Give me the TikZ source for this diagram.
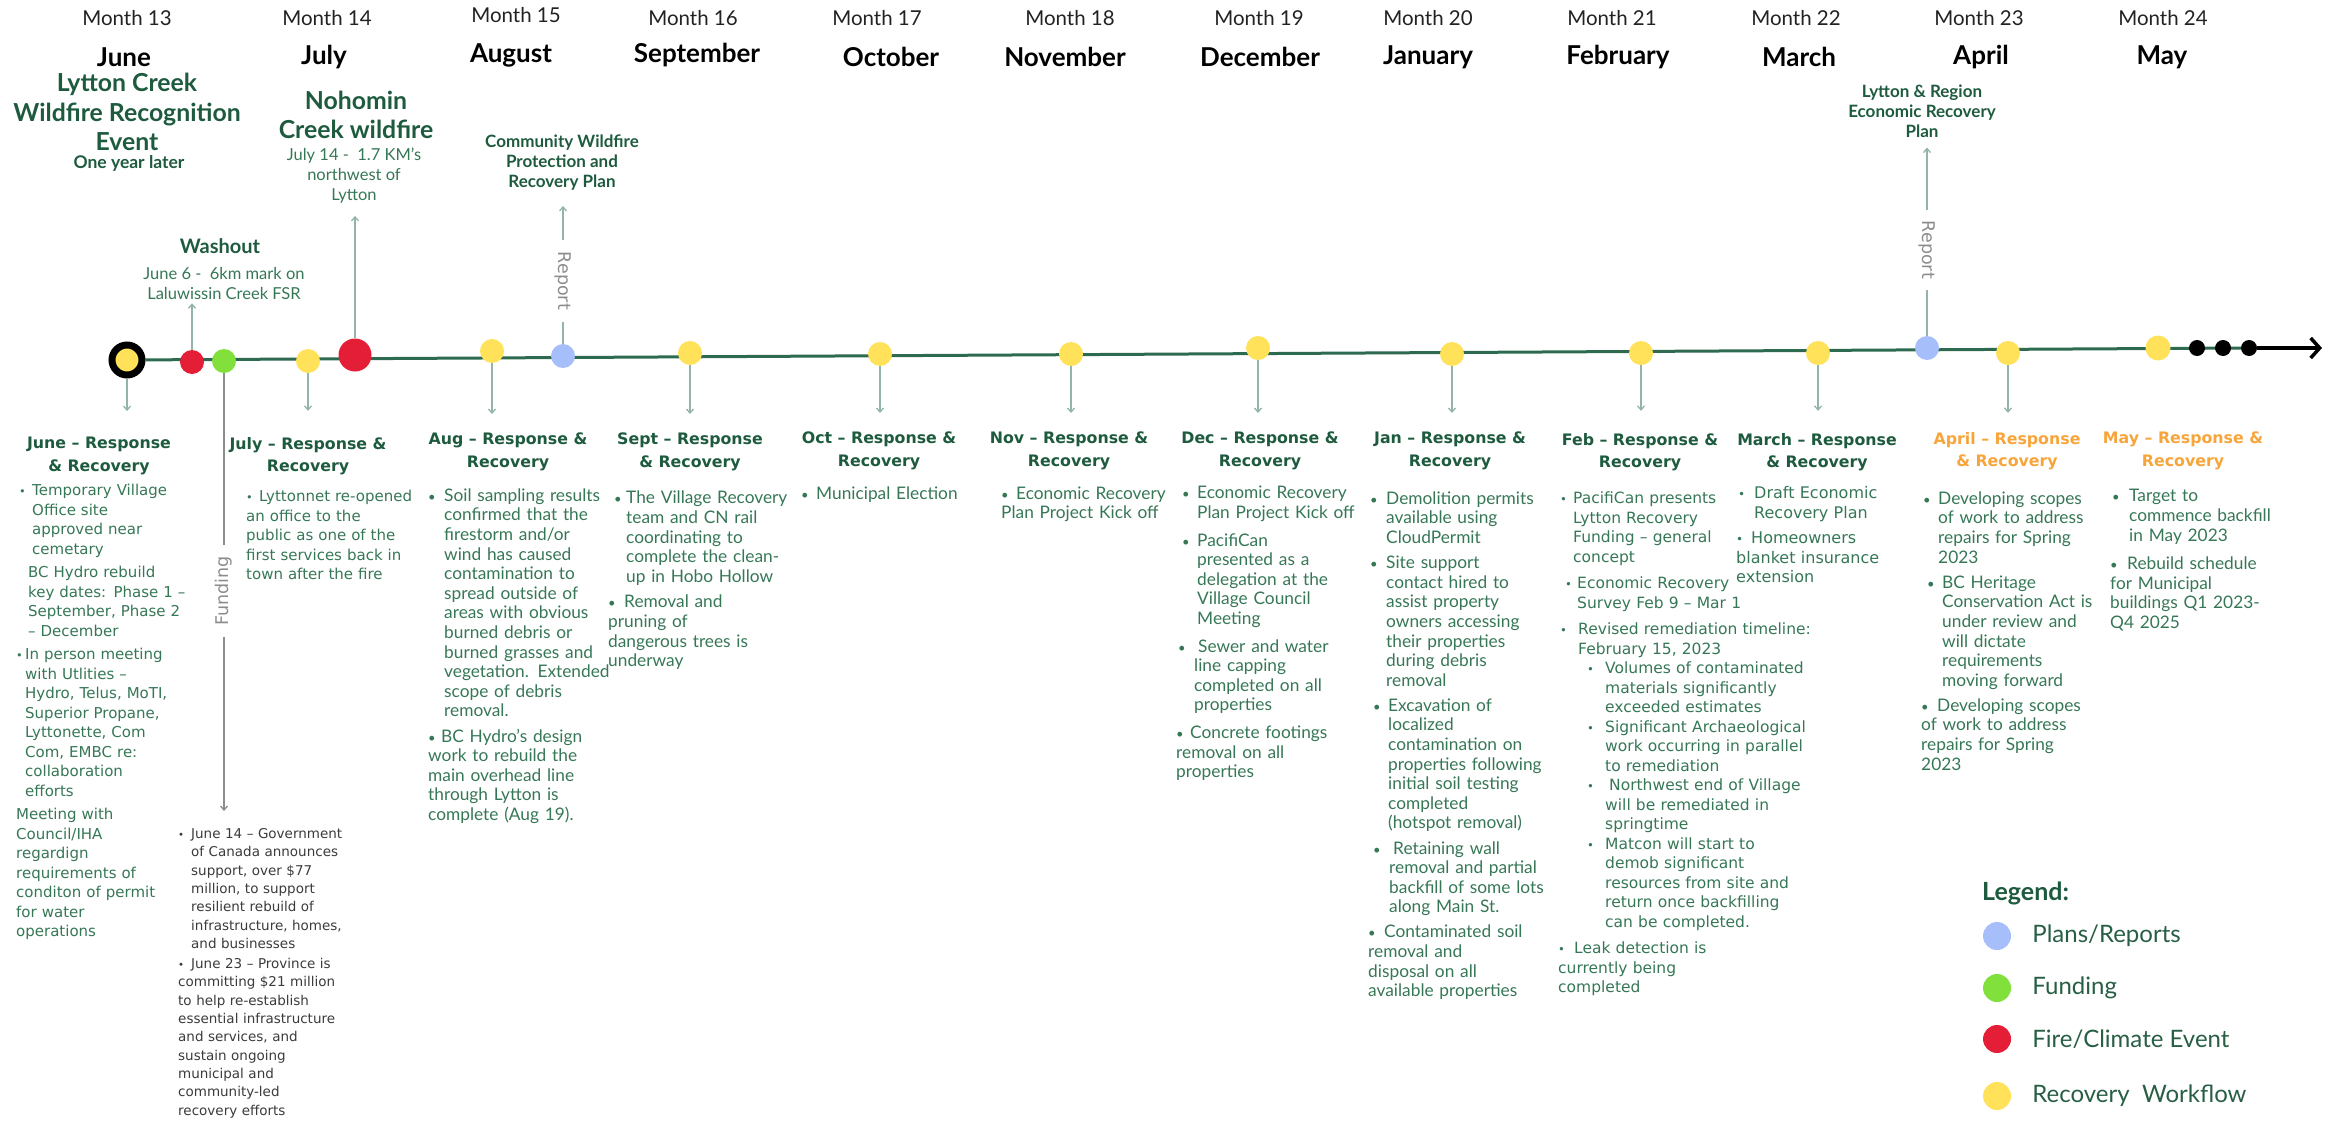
\documentclass[tikz,border=0pt]{standalone}
\usepackage{graphicx}
\usepackage{fontspec}
\setmainfont{Lato}
\newfontfamily\wide{DejaVu Sans}
\usetikzlibrary{arrows.meta,positioning,backgrounds}

\definecolor{hdgreen}{HTML}{1E5B3E}
\definecolor{txgreen}{HTML}{367756}
\definecolor{legtxt}{HTML}{275E44}
\definecolor{lngreen}{HTML}{2D6A4F}
\definecolor{cngray}{HTML}{93B5A7}
\definecolor{fngray}{HTML}{8C8C8C}
\definecolor{fundtxt}{HTML}{3B3B3B}
\definecolor{monthtxt}{HTML}{222222}
\definecolor{dotyel}{HTML}{FFE15A}
\definecolor{dotblu}{HTML}{A6BEFA}
\definecolor{dotgrn}{HTML}{82E03C}
\definecolor{dotred}{HTML}{E41E37}
\definecolor{hdorange}{HTML}{F7A53B}

% bullet paragraphs: left skip, bullet box width
\newcommand\bit[2]{\par\leftskip=#1pt\hangindent=#2pt\hangafter=1\noindent\makebox[#2pt][l]{\scalebox{.75}{\textbullet}}\ignorespaces}
\newcommand\sbit[2]{\par\vspace{-\parskip}\bit{#1}{#2}}
\newcommand\nob[1]{\par\leftskip=#1pt\hangindent=0pt\noindent\ignorespaces}

\tikzset{
  mlabel/.style={font=\fontsize{20.5}{24}\selectfont, text=monthtxt, inner sep=0pt},
  mname/.style={font=\bfseries\fontsize{26}{30}\selectfont, text=black, inner sep=0pt},
  evtitle/.style={align=center, text=hdgreen, font=\bfseries\fontsize{24.8}{29.5}\selectfont, inner sep=0pt},
  evsub/.style={text=hdgreen, font=\bfseries\fontsize{17.5}{20}\selectfont, inner sep=0pt},
  evhead/.style={text=hdgreen, font=\bfseries\fontsize{20}{24}\selectfont, inner sep=0pt},
  evnote/.style={align=center, text=txgreen, font=\fontsize{16.5}{20}\selectfont, inner sep=0pt},
  plantitle/.style={align=center, text=hdgreen, font=\bfseries\fontsize{17}{20}\selectfont, inner sep=0pt},
  colhead/.style={align=center, text=hdgreen, font=\wide\bfseries\fontsize{15.8}{22.5}\selectfont, inner sep=0pt},
  orghead/.style={colhead, text=hdorange},
  pgap/.style={execute at begin node={\setlength{\parskip}{#1}}},
  body/.style={anchor=north west, inner sep=0pt, text width=320pt, align=left, text=txgreen, font=\fontsize{17.3}{19.6}\selectfont, pgap=5.5pt},
  widebody/.style={body, font=\wide\fontsize{15}{19.5}\selectfont},
  dotnode/.style={circle, inner sep=0pt, minimum size=24pt},
  workdot/.style={dotnode, fill=dotyel},
  plandot/.style={dotnode, fill=dotblu},
  funddot/.style={dotnode, fill=dotgrn},
  firedot/.style={dotnode, fill=dotred},
  ringdot/.style={dotnode, fill=dotyel, draw=black, line width=7pt, minimum size=30pt},
  enddot/.style={dotnode, fill=black, minimum size=16pt},
  tline/.style={draw=lngreen, line width=3pt},
  endarrow/.style={draw=black, line width=3.5pt, -{Straight Barb[length=9pt,width=20pt]}},
  cline/.style={draw=cngray, line width=1.3pt},
  conn/.style={cline, -{Straight Barb[length=4pt,width=7pt]}},
  down/.style={conn, shorten >=19pt},
  fline/.style={draw=fngray, line width=1.3pt},
  rtag/.style={text=fngray, font=\wide\fontsize{17.5}{20}\selectfont, inner xsep=12pt, inner ysep=1pt},
  legtitle/.style={text=hdgreen, font=\bfseries\fontsize{25}{29}\selectfont, inner sep=0pt},
  legtext/.style={text=legtxt, font=\fontsize{24}{28}\selectfont, inner sep=0pt}
}

\begin{document}
\begin{tikzpicture}[x=1pt,y=-1pt]
\useasboundingbox (0,0) rectangle (2333,1121);

% month labels
\node[mlabel] (m13) at (127,18) {Month 13};
\node[mlabel] (m14) at (327,18) {Month 14};
\node[mlabel] (m15) at (516,15) {Month 15};
\node[mlabel] (m16) at (693,18) {Month 16};
\node[mlabel] (m17) at (877,18) {Month 17};
\node[mlabel] (m18) at (1070,18) {Month 18};
\node[mlabel] (m19) at (1259,18) {Month 19};
\node[mlabel] (m20) at (1428,18) {Month 20};
\node[mlabel] (m21) at (1612,18) {Month 21};
\node[mlabel] (m22) at (1796,18) {Month 22};
\node[mlabel] (m23) at (1979,18) {Month 23};
\node[mlabel] (m24) at (2163,18) {Month 24};
\node[mname] (n13) at (124,57) {June};
\node[mname] (n14) at (324,57) {July};
\node[mname] (n15) at (511,55) {August};
\node[mname] (n16) at (697,55) {September};
\node[mname] (n17) at (891,57) {October};
\node[mname] (n18) at (1065,57) {November};
\node[mname] (n19) at (1260,57) {December};
\node[mname] (n20) at (1428,57) {January};
\node[mname] (n21) at (1618,57) {February};
\node[mname] (n22) at (1799,57) {March};
\node[mname] (n23) at (1981,57) {April};
\node[mname] (n24) at (2162,57) {May};

% events above the line
\node[evtitle] (tLC) at (127,112) {Lytton Creek\\Wildfire Recognition\\Event};
\node[evsub] (tLCs) at (129,163) {One year later};
\node[evtitle] (tNoho) at (356,115) {Nohomin\\Creek wildfire};
\node[evnote] (tNohoN) at (354,176) {July 14 -\ \ 1.7 KM’s\\northwest of\\Lytton};
\node[evhead] (tWash) at (220,246) {Washout};
\node[evnote] (tWashN) at (224,283) {June 6 -\ \ 6km mark on\\Laluwissin Creek FSR};
\node[plantitle] (tCW) at (562,163) {Community Wildfire\\Protection and\\Recovery Plan};
\node[plantitle] (tLR) at (1922,111) {Lytton \& Region\\Economic Recovery\\Plan};

% dots on the timeline
\node[ringdot] (dRing) at (127,360) {};
\node[firedot] (dWash) at (192,362) {};
\node[funddot] (dFund) at (224,361) {};
\node[workdot] (dJul) at (308,361) {};
\node[firedot, minimum size=33pt] (dFire) at (355,355) {};
\node[workdot] (dAug) at (492,351) {};
\node[plandot] (dRepA) at (563,356) {};
\node[workdot] (dSep) at (690,353) {};
\node[workdot] (dOct) at (880,354) {};
\node[workdot] (dNov) at (1071,354) {};
\node[workdot] (dDec) at (1258,348) {};
\node[workdot] (dJan) at (1452,354) {};
\node[workdot] (dFeb) at (1641,353) {};
\node[workdot] (dMar) at (1818,353) {};
\node[plandot] (dRepB) at (1927,348) {};
\node[workdot] (dApr) at (2008,353) {};
\node[workdot, minimum size=25pt] (dMay) at (2158,348) {};
\node[enddot] (e1) at (2197,348) {};
\node[enddot] (e2) at (2223,348) {};
\node[enddot] (e3) at (2249,348) {};
\coordinate (tEnd) at (2322,348);
\begin{scope}[on background layer]
\draw[tline] (dRing) -- (e3);
\end{scope}
\draw[endarrow] (e3) -- (tEnd);

% tags on the side lines
\node[rtag, rotate=-90] (rA) at (563,281) {Report};
\node[rtag, rotate=-90, inner xsep=11pt] (rB) at (1927,250) {Report};
\node[rtag, rotate=90, inner xsep=11pt] (fN) at (224,591) {Funding};

% column headers
\node[colhead] (hJun) at (99,456) {June – Response\\\& Recovery};
\node[colhead] (hJul) at (308,456) {July – Response \&\\Recovery};
\node[colhead] (hAug) at (508,452) {Aug – Response \&\\Recovery};
\node[colhead] (hSep) at (690,452) {Sept – Response\\\& Recovery};
\node[colhead] (hOct) at (879,451) {Oct – Response \&\\Recovery};
\node[colhead] (hNov) at (1069,451) {Nov – Response \&\\Recovery};
\node[colhead] (hDec) at (1260,451) {Dec – Response \&\\Recovery};
\node[colhead] (hJan) at (1450,451) {Jan – Response \&\\Recovery};
\node[colhead] (hFeb) at (1640,452) {Feb – Response \&\\Recovery};
\node[colhead] (hMar) at (1817,452) {March – Response\\\& Recovery};
\node[orghead] (hApr) at (2007,451) {April – Response\\\& Recovery};
\node[orghead] (hMay) at (2183,451) {May – Response \&\\Recovery};

% column texts
\node[widebody, pgap=4pt] (bJun) at (16,472) {\bit{3}{13}Temporary Village\newline Office site\newline approved near\newline cemetary
\nob{12}BC Hydro rebuild\newline key dates: Phase 1 –\newline September, Phase 2\newline – December
\bit{0}{9}In person meeting\newline with Utlities –\newline Hydro, Telus, MoTI,\newline Superior Propane,\newline Lyttonette, Com\newline Com, EMBC re:\newline collaboration\newline efforts
\nob{8}Meeting with\newline Council/IHA\newline regardign\newline requirements of\newline conditon of permit\newline for water\newline operations};
\node[widebody, pgap=4pt] (bJul) at (246,478) {\bit{0}{13}Lyttonnet re-opened\newline an office to the\newline public as one of the\newline first services back in\newline town after the fire};
\node[widebody, text=fundtxt, font=\wide\fontsize{13.5}{18.3}\selectfont, pgap=2pt] (bFund) at (178,818) {\bit{0}{13}June 14 – Government\newline of Canada announces\newline support, over \$77\newline million, to support\newline resilient rebuild of\newline infrastructure, homes,\newline and businesses
\bit{0}{13}June 23 – Province is\newline committing \$21 million\newline to help re-establish\newline essential infrastructure\newline and services, and\newline sustain ongoing\newline municipal and\newline community-led\newline recovery efforts};
\node[body] (bAug) at (428,476) {\bit{0}{16}Soil sampling results\newline confirmed that the\newline firestorm and/or\newline wind has caused\newline contamination to\newline spread outside of\newline areas with obvious\newline burned debris or\newline burned grasses and\newline vegetation. Extended\newline scope of debris\newline removal.
\bit{7}{13}BC Hydro’s design\newline work to rebuild the\newline main overhead line\newline through Lytton is\newline complete (Aug 19).};
\node[body, pgap=6pt] (bSep) at (608,478) {\bit{6}{12}The Village Recovery\newline team and CN rail\newline coordinating to\newline complete the clean-\newline up in Hobo Hollow
\bit{0}{16}Removal and\newline pruning of\newline dangerous trees is\newline underway};
\node[body] (bOct) at (801,474) {\bit{0}{15}Municipal Election};
\node[body] (bNov) at (1001,474) {\bit{0}{15}Economic Recovery\newline Plan Project Kick off};
\node[body, pgap=8pt] (bDec) at (1176,471) {\bit{6}{15}Economic Recovery\newline Plan Project Kick off
\bit{6}{15}PacifiCan\newline presented as a\newline delegation at the\newline Village Council\newline Meeting
\bit{2}{16}\hspace{4pt}Sewer and water\newline line capping\newline completed on all\newline properties
\bit{4}{14}Concrete footings\newline removal on all\newline properties};
\node[body] (bJan) at (1368,479) {\bit{2}{16}Demolition permits\newline available using\newline CloudPermit
\bit{2}{16}Site support\newline contact hired to\newline assist property\newline owners accessing\newline their properties\newline during debris\newline removal
\bit{5}{15}Excavation of\newline localized\newline contamination on\newline properties following\newline initial soil testing\newline completed\newline (hotspot removal)
\bit{5}{16}\hspace{4pt}Retaining wall\newline removal and partial\newline backfill of some lots\newline along Main St.
\bit{5}{16}Contaminated soil\newline removal and\newline disposal on all\newline available properties};
\node[widebody, font=\wide\fontsize{15.5}{19.5}\selectfont, pgap=7pt] (bFeb) at (1558,477) {\bit{2}{13}PacifiCan presents\newline Lytton Recovery\newline Funding – general\newline concept
\bit{7}{12}Economic Recovery\newline Survey Feb 9 – Mar 1
\bit{2}{18}Revised remediation timeline:\newline February 15, 2023
\sbit{29}{18}Volumes of contaminated\newline materials significantly\newline exceeded estimates
\sbit{29}{18}Significant Archaeological\newline work occurring in parallel\newline to remediation
\sbit{29}{18}\hspace{4pt}Northwest end of Village\newline will be remediated in\newline springtime
\sbit{29}{18}Matcon will start to\newline demob significant\newline resources from site and\newline return once backfilling\newline can be completed.
\bit{19}{16}Leak detection is\newline currently being\newline completed};
\node[widebody, font=\wide\fontsize{16}{19.5}\selectfont, pgap=6pt] (bMar) at (1736,473) {\bit{2}{16}Draft Economic\newline Recovery Plan
\bit{2}{15}Homeowners\newline blanket insurance\newline extension};
\node[body] (bApr) at (1921,479) {\bit{2}{15}Developing scopes\newline of work to address\newline repairs for Spring\newline 2023
\bit{6}{15}BC Heritage\newline Conservation Act is\newline under review and\newline will dictate\newline requirements\newline moving forward
\bit{4}{16}Developing scopes\newline of work to address\newline repairs for Spring\newline 2023};
\node[body, pgap=9pt] (bMay) at (2110,473) {\bit{2}{17}Target to\newline commence backfill\newline in May 2023
\bit{2}{17}Rebuild schedule\newline for Municipal\newline buildings Q1 2023-\newline Q4 2025};

% connectors
\draw[conn, shorten >=4pt] (dWash) -- (dWash |- tWashN.south);
\draw[conn, shorten >=12pt] (dFire) -- (dFire |- tNohoN.south);
\draw[cline] (dRepA) -- (rA);
\draw[conn, shorten >=15pt] (rA) -- (dRepA |- tCW.south);
\draw[cline] (dRepB) -- (rB);
\draw[conn, shorten >=10pt] (rB) -- (dRepB |- tLR.south);
\draw[fline] (dFund) -- (fN);
\draw[fline, -{Straight Barb[length=4pt,width=7pt]}, shorten >=7pt] (fN) -- (fN |- bFund.north);
\draw[down, shorten >=26pt] (dRing) -- (dRing |- hJun.north);
\draw[down, shorten >=26pt] (dJul) -- (dJul |- hJul.north);
\draw[down] (dAug) -- (dAug |- hAug.north);
\draw[down] (dSep) -- (dSep |- hSep.north);
\draw[down] (dOct) -- (dOct |- hOct.north);
\draw[down] (dNov) -- (dNov |- hNov.north);
\draw[down] (dDec) -- (dDec |- hDec.north);
\draw[down] (dJan) -- (dJan |- hJan.north);
\draw[down, shorten >=22pt] (dFeb) -- (dFeb |- hFeb.north);
\draw[down, shorten >=22pt] (dMar) -- (dMar |- hMar.north);
\draw[down] (dApr) -- (dApr |- hApr.north);

% legend
\node[legtitle, anchor=west] (lgT) at (1982,893) {Legend:};
\node[plandot, minimum size=28pt] (lg1) at (1997,936) {};
\node[funddot, minimum size=28pt] (lg2) at (1997,988) {};
\node[firedot, minimum size=28pt] (lg3) at (1997,1039) {};
\node[workdot, minimum size=28pt] (lg4) at (1997,1096) {};
\node[legtext, right=21pt of lg1] (lt1) {Plans/Reports};
\node[legtext, right=21pt of lg2] (lt2) {Funding};
\node[legtext, right=21pt of lg3] (lt3) {Fire/Climate Event};
\node[legtext, right=21pt of lg4] (lt4) {Recovery\ \ Workflow};
\end{tikzpicture}
\end{document}
